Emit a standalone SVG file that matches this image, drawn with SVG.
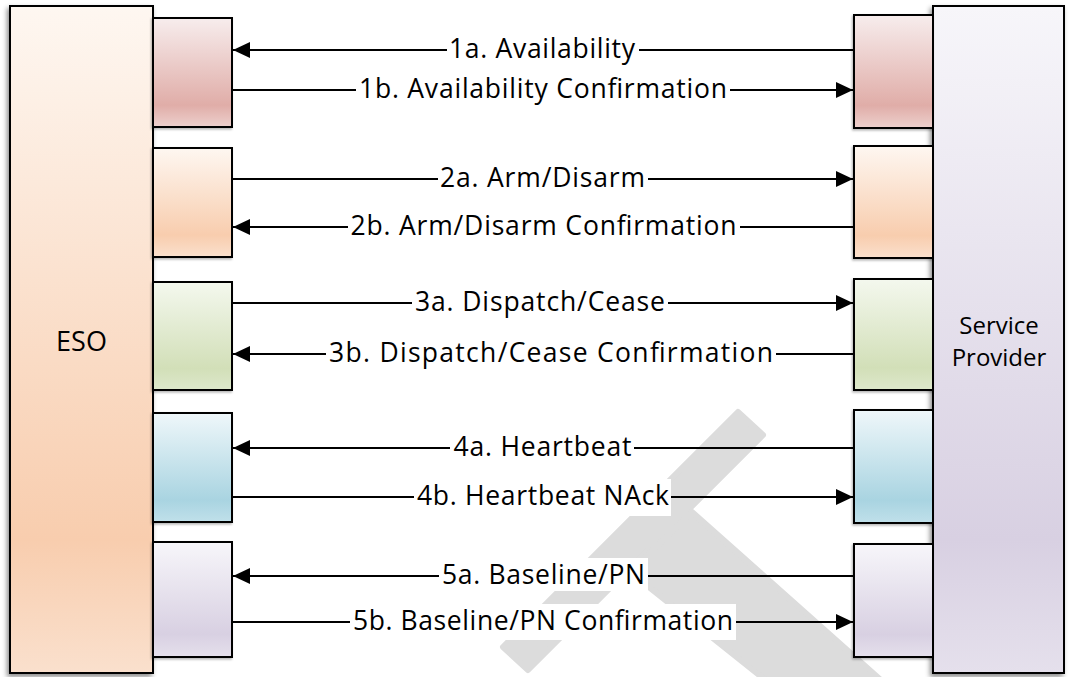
<svg xmlns="http://www.w3.org/2000/svg" width="1070" height="677" viewBox="0 0 1070 677">
  <defs>
    <linearGradient id="gRed" x1="0" y1="0" x2="0" y2="1">
      <stop offset="0" stop-color="#F7EDED"/>
      <stop offset="0.8" stop-color="#E0ADA8"/>
      <stop offset="1" stop-color="#EDD0CD"/>
    </linearGradient>
    <linearGradient id="gOrange" x1="0" y1="0" x2="0" y2="1">
      <stop offset="0" stop-color="#FEF7F1"/>
      <stop offset="0.8" stop-color="#F8CDAE"/>
      <stop offset="1" stop-color="#FAE0CD"/>
    </linearGradient>
    <linearGradient id="gGreen" x1="0" y1="0" x2="0" y2="1">
      <stop offset="0" stop-color="#F4F8EE"/>
      <stop offset="0.8" stop-color="#D2DFB8"/>
      <stop offset="1" stop-color="#DDE8CB"/>
    </linearGradient>
    <linearGradient id="gBlue" x1="0" y1="0" x2="0" y2="1">
      <stop offset="0" stop-color="#EFF7FA"/>
      <stop offset="0.8" stop-color="#A9D4E1"/>
      <stop offset="1" stop-color="#C0E0EA"/>
    </linearGradient>
    <linearGradient id="gPurple" x1="0" y1="0" x2="0" y2="1">
      <stop offset="0" stop-color="#F7F6FA"/>
      <stop offset="0.8" stop-color="#D8D0E2"/>
      <stop offset="1" stop-color="#E5E0EC"/>
    </linearGradient>
    <filter id="shadow" x="-10%" y="-5%" width="120%" height="110%">
      <feDropShadow dx="-2" dy="3" stdDeviation="2.5" flood-color="#000" flood-opacity="0.45"/>
    </filter>
    <filter id="shadowS" x="-10%" y="-10%" width="120%" height="120%">
      <feDropShadow dx="-1" dy="1.5" stdDeviation="1.2" flood-color="#000" flood-opacity="0.3"/>
    </filter>
    <marker id="arrow" markerUnits="userSpaceOnUse" markerWidth="18" markerHeight="17" refX="17" refY="8" orient="auto">
      <path d="M0,0 L17,8 L0,16 Z" fill="#000"/>
    </marker>
  </defs>
  <style>
    .box { stroke: #000; stroke-width: 2; }
    .conn { stroke: #000; stroke-width: 2; fill: none; }
    .lbl { font-family: "Open Sans", "Liberation Sans", sans-serif; font-size: 26.5px; fill: #000; text-anchor: middle; }
    .name { font-family: "Open Sans", "Liberation Sans", sans-serif; font-size: 24px; fill: #000; text-anchor: middle; }
    .lblbg { fill: #fff; }
    .wm { fill: #DCDCDC; stroke: #DCDCDC; stroke-width: 6; stroke-linejoin: round; }
  </style>

  <rect width="1070" height="677" fill="#fff"/>

  <!-- watermark -->
  <g id="watermark">
    <polygon class="wm" points="738,412 763,435 528,670 503,647"/>
    <polygon class="wm" points="692,512 630,572 778,690 892,690"/>
  </g>

  <g id="eso">
    <rect class="box" x="10" y="6" width="143" height="667" fill="url(#gOrange)" filter="url(#shadow)"/>
    <text class="name" x="81.5" y="351" style="font-size:27px">ESO</text>
  </g>
  <g id="service-provider">
    <rect class="box" x="933" y="6" width="131" height="667" fill="url(#gPurple)" filter="url(#shadow)"/>
    <text class="name" x="999" y="334">Service</text>
    <text class="name" x="999" y="366">Provider</text>
  </g>

  <g id="eso-port-1"><rect class="box" x="153" y="18" width="79" height="109" fill="url(#gRed)" filter="url(#shadowS)"/></g>
  <g id="eso-port-2"><rect class="box" x="153" y="148" width="79" height="109" fill="url(#gOrange)" filter="url(#shadowS)"/></g>
  <g id="eso-port-3"><rect class="box" x="153" y="282" width="79" height="108" fill="url(#gGreen)" filter="url(#shadowS)"/></g>
  <g id="eso-port-4"><rect class="box" x="153" y="413" width="79" height="109" fill="url(#gBlue)" filter="url(#shadowS)"/></g>
  <g id="eso-port-5"><rect class="box" x="153" y="542" width="79" height="115" fill="url(#gPurple)" filter="url(#shadowS)"/></g>

  <g id="sp-port-1"><rect class="box" x="854" y="15" width="79" height="113" fill="url(#gRed)" filter="url(#shadowS)"/></g>
  <g id="sp-port-2"><rect class="box" x="854" y="146" width="79" height="112" fill="url(#gOrange)" filter="url(#shadowS)"/></g>
  <g id="sp-port-3"><rect class="box" x="854" y="279" width="79" height="111" fill="url(#gGreen)" filter="url(#shadowS)"/></g>
  <g id="sp-port-4"><rect class="box" x="854" y="410" width="79" height="113" fill="url(#gBlue)" filter="url(#shadowS)"/></g>
  <g id="sp-port-5"><rect class="box" x="854" y="544" width="79" height="113" fill="url(#gPurple)" filter="url(#shadowS)"/></g>

  <g id="connectors">
    <line class="conn" x1="854" y1="50" x2="233" y2="50" marker-end="url(#arrow)"/>
    <line class="conn" x1="232" y1="90" x2="853" y2="90" marker-end="url(#arrow)"/>
    <line class="conn" x1="232" y1="179" x2="853" y2="179" marker-end="url(#arrow)"/>
    <line class="conn" x1="854" y1="227" x2="233" y2="227" marker-end="url(#arrow)"/>
    <line class="conn" x1="232" y1="303" x2="853" y2="303" marker-end="url(#arrow)"/>
    <line class="conn" x1="854" y1="354" x2="233" y2="354" marker-end="url(#arrow)"/>
    <line class="conn" x1="854" y1="448" x2="233" y2="448" marker-end="url(#arrow)"/>
    <line class="conn" x1="232" y1="497" x2="853" y2="497" marker-end="url(#arrow)"/>
    <line class="conn" x1="854" y1="576" x2="233" y2="576" marker-end="url(#arrow)"/>
    <line class="conn" x1="232" y1="622" x2="853" y2="622" marker-end="url(#arrow)"/>

    <rect class="lblbg" x="447" y="34" width="192" height="33"/>
    <text class="lbl" x="542" y="58" textLength="186" lengthAdjust="spacing">1a. Availability</text>
    <rect class="lblbg" x="356" y="73" width="374" height="36"/>
    <text class="lbl" x="543" y="98" textLength="368" lengthAdjust="spacing">1b. Availability Confirmation</text>

    <rect class="lblbg" x="438" y="162" width="210" height="36"/>
    <text class="lbl" x="542.5" y="187" textLength="205" lengthAdjust="spacing">2a. Arm/Disarm</text>
    <rect class="lblbg" x="348" y="210" width="392" height="36"/>
    <text class="lbl" x="543.5" y="235" textLength="386" lengthAdjust="spacing">2b. Arm/Disarm Confirmation</text>

    <rect class="lblbg" x="412" y="286" width="256" height="36"/>
    <text class="lbl" x="540" y="311" textLength="250" lengthAdjust="spacing">3a. Dispatch/Cease</text>
    <rect class="lblbg" x="326" y="337" width="450" height="36"/>
    <text class="lbl" x="551" y="362" textLength="444" lengthAdjust="spacing">3b. Dispatch/Cease Confirmation</text>

    <rect class="lblbg" x="450" y="430" width="184" height="37"/>
    <text class="lbl" x="542.5" y="456" textLength="178" lengthAdjust="spacing">4a. Heartbeat</text>
    <rect class="lblbg" x="414" y="479" width="257" height="37"/>
    <text class="lbl" x="543" y="505" textLength="252" lengthAdjust="spacing">4b. Heartbeat NAck</text>

    <rect class="lblbg" x="439" y="558" width="209" height="33"/>
    <text class="lbl" x="543.5" y="584" textLength="203" lengthAdjust="spacing">5a. Baseline/PN</text>
    <rect class="lblbg" x="350" y="604" width="386" height="36"/>
    <text class="lbl" x="543" y="630" textLength="380" lengthAdjust="spacing">5b. Baseline/PN Confirmation</text>
  </g>
</svg>
